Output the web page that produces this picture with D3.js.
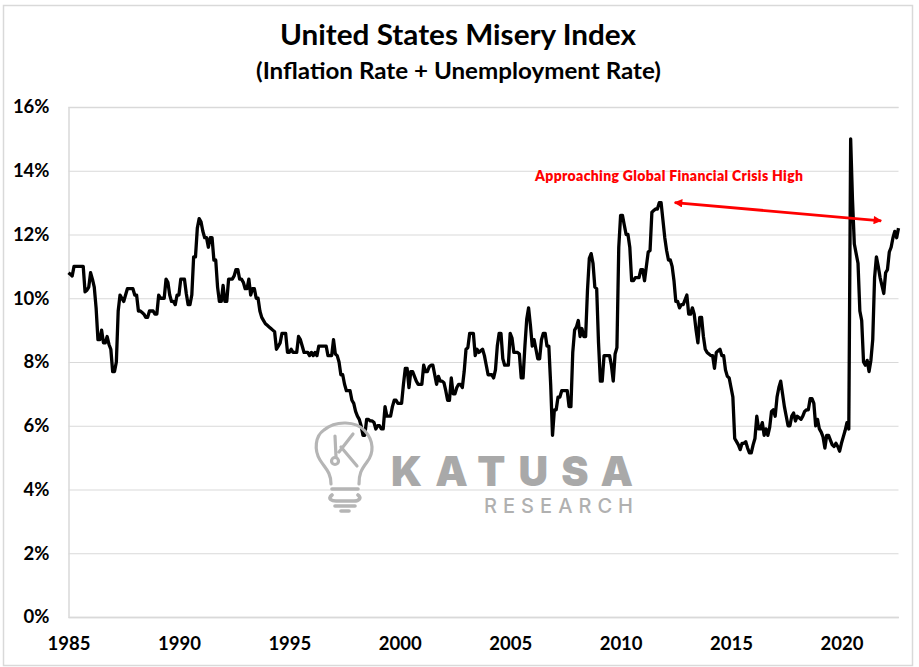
<!DOCTYPE html>
<html>
<head>
<meta charset="utf-8">
<script src="https://cdn.jsdelivr.net/npm/d3@7"></script>
<style>
  body { margin: 0; background: #fff; }
  text { font-family: Lato, sans-serif; fill: #000; }
  .axis text { font-weight: 700; font-size: 18.5px; }
  .axis .domain { stroke: #d9d9d9; stroke-width: 1.5; }
  .axis .tick line { stroke: #d9d9d9; stroke-width: 1.2; }
</style>
</head>
<body>
<svg id="chart" width="919" height="667"></svg>
<script>
var yearTicks = [1985, 1990, 1995, 2000, 2005, 2010, 2015, 2020];
var pctTicks = [0, 2, 4, 6, 8, 10, 12, 14, 16];
var startYear = 1985;

// monthly, one row per year
var misery = [
  10.8,10.75,10.7,11.0,11.0,11.0,11.0,11.0,11.0,10.2,10.25,10.35,
  10.8,10.6,10.35,9.7,8.7,8.7,9.0,8.6,8.6,8.8,8.55,8.4,
  7.7,7.7,8.0,9.6,10.1,10.0,9.9,10.1,10.3,10.3,10.3,10.3,
  10.1,10.1,9.6,9.6,9.55,9.5,9.4,9.4,9.6,9.6,9.6,9.5,
  9.5,10.1,10.0,10.0,10.0,10.6,10.5,10.1,9.9,9.9,9.8,10.1,
  10.1,10.6,10.6,10.6,10.15,9.8,9.8,10.1,11.3,11.3,12.2,12.5,
  12.4,12.1,11.9,11.9,11.6,11.9,11.9,11.2,11.2,10.35,9.9,9.9,
  10.4,9.9,9.9,10.6,10.6,10.6,10.7,10.9,10.9,10.6,10.6,10.5,
  10.3,10.3,10.6,10.1,10.3,10.3,10.0,10.0,9.6,9.4,9.3,9.2,
  9.15,9.1,9.05,9.0,8.95,8.4,8.5,8.6,8.9,8.9,8.9,8.3,
  8.3,8.4,8.3,8.3,8.3,8.8,8.7,8.5,8.3,8.3,8.3,8.2,
  8.3,8.2,8.3,8.2,8.5,8.5,8.5,8.5,8.5,8.2,8.2,8.2,
  8.7,8.25,8.2,8.0,7.6,7.6,7.3,7.1,7.1,7.1,6.8,6.7,
  6.45,6.3,6.2,6.0,5.7,5.7,6.2,6.2,6.15,6.15,6.1,5.9,
  6.0,6.0,5.9,5.9,6.6,6.3,6.3,6.3,6.6,6.8,6.8,6.7,
  6.7,6.7,7.3,7.8,7.8,7.2,7.7,7.7,7.55,7.4,7.3,7.3,
  7.3,7.9,7.7,7.7,7.85,7.9,7.9,7.6,7.3,7.55,7.4,7.4,
  7.35,7.1,6.8,6.8,7.5,7.0,7.0,7.2,7.3,7.3,7.2,7.7,
  8.4,8.45,8.9,8.9,8.9,8.2,8.4,8.3,8.35,8.4,8.2,7.9,
  7.6,7.6,7.6,7.5,7.75,8.5,8.9,8.9,8.1,7.9,7.9,7.9,
  8.9,8.75,8.3,8.3,8.3,8.25,7.5,7.5,8.5,9.35,9.7,9.15,
  8.5,8.7,8.4,8.1,8.1,8.7,8.9,8.9,8.5,8.5,7.3,5.7,
  6.5,6.5,6.9,6.9,7.1,7.1,7.1,7.1,6.6,6.6,8.3,9.0,
  9.1,9.3,8.8,9.05,8.8,8.8,10.25,11.25,11.4,11.1,10.35,10.3,
  8.6,7.4,7.4,8.2,8.2,8.2,8.2,7.9,7.4,8.25,8.45,11.6,
  12.6,12.6,12.3,12.0,12.0,11.6,10.55,10.55,10.65,10.65,10.65,10.9,
  10.9,10.55,11.0,11.45,11.5,12.7,12.75,12.8,12.8,13.0,13.0,12.45,
  11.9,11.5,11.2,11.2,11.0,10.55,9.9,9.9,9.7,9.8,9.8,9.95,
  10.1,9.5,9.5,9.7,9.5,9.0,8.6,9.4,9.4,8.8,8.4,8.3,
  8.25,8.2,8.2,7.8,8.3,8.35,8.4,8.2,8.2,7.75,7.55,7.5,
  7.2,6.9,5.6,5.5,5.4,5.25,5.45,5.45,5.5,5.3,5.15,5.15,
  5.4,5.6,6.3,5.9,5.9,6.1,5.7,5.9,5.7,5.95,6.45,6.5,
  6.3,6.9,7.2,7.4,7.0,6.6,6.3,6.0,6.0,6.3,6.4,6.15,
  6.3,6.25,6.2,6.3,6.45,6.5,6.5,6.85,6.85,6.7,6.0,6.2,
  5.9,5.8,5.65,5.3,5.7,5.7,5.55,5.4,5.35,5.45,5.35,5.2,
  5.45,5.65,5.85,6.1,5.9,15.0,13.1,11.7,11.4,11.1,9.6,9.3,
  8.0,7.9,8.05,7.7,8.05,8.7,10.65,11.3,11.0,10.65,10.4,10.15,
  10.8,10.9,11.45,11.6,11.9,12.1,11.9,12.2
];

var arrowFrom = [2012.45, 13.0],
    arrowTo = [2021.8, 12.43];

var svg = d3.select("#chart"),
    margin = {top: 107, right: 20.5, bottom: 50, left: 68.5},
    width = svg.attr("width") - margin.left - margin.right,
    height = svg.attr("height") - margin.top - margin.bottom;

var x = d3.scaleLinear()
    .domain([startYear, startYear + (misery.length - 1) / 12])
    .range([0, width]);
var y = d3.scaleLinear().domain([0, 16]).range([height, 0]);

// chart border
svg.append("rect")
    .attr("x", 3.5).attr("y", 5.5)
    .attr("width", 909).attr("height", 660)
    .attr("fill", "#fff")
    .attr("stroke", "#d9d9d9")
    .attr("stroke-width", 1.5);

var g = svg.append("g")
    .attr("transform", "translate(" + margin.left + "," + margin.top + ")");

g.append("g")
    .attr("class", "axis axis--y")
    .call(d3.axisLeft(y).tickValues(pctTicks).tickSize(-width).tickPadding(19)
      .tickFormat(function(d) { return d + "%"; }));

g.append("g")
    .attr("class", "axis axis--x")
    .attr("transform", "translate(0," + height + ")")
    .call(d3.axisBottom(x).tickValues(yearTicks).tickSize(0).tickPadding(19.5)
      .tickFormat(d3.format("d")));

// watermark
var mark = svg.append("g").attr("fill", "none").attr("stroke", "#b5b5b5")
    .attr("stroke-width", 3.2).attr("stroke-linecap", "round").attr("stroke-linejoin", "round");
mark.append("path")
    .attr("d", "M331,484 C331,472 325,468 320,460 C314,450 315,436 324,430 C336,420 356,421 365,431 C374,441 374,453 367,462 C361,470 359,474 359,484");
mark.append("path").attr("d", "M335,436 L336,457 M339,452 L353,434 M341,447 L357,466");
mark.append("circle").attr("cx", 335).attr("cy", 461).attr("r", 3.5);
mark.append("path").attr("d", "M332,489 L358,489 M332,495 C327,499 332,501 336,501 L354,501 C359,501 362,498 358,495 M335,506 L355,506 M341,511 L349,511")
    .attr("stroke-width", 3.6);

svg.append("text")
    .attr("x", 391).attr("y", 486)
    .attr("textLength", 242)
    .style("font-family", "Inter, sans-serif")
    .style("font-weight", 900).style("font-size", "41px")
    .style("fill", "#a9a9a9")
    .text("KATUSA");
svg.append("text")
    .attr("x", 484).attr("y", 513)
    .attr("textLength", 149)
    .style("font-family", "Inter, sans-serif")
    .style("font-weight", 500).style("font-size", "20px")
    .style("fill", "#b0b0b0")
    .text("RESEARCH");

var line = d3.line()
    .x(function(d, i) { return x(startYear + i / 12); })
    .y(function(d) { return y(d); });

g.append("path")
    .datum(misery)
    .attr("fill", "none")
    .attr("stroke", "#000")
    .attr("stroke-width", 3.3)
    .attr("stroke-linejoin", "round")
    .attr("d", line);

// red arrow
svg.append("defs").append("marker")
    .attr("id", "head")
    .attr("viewBox", "0 0 10 10")
    .attr("refX", 9).attr("refY", 5)
    .attr("markerWidth", 3.4).attr("markerHeight", 3)
    .attr("orient", "auto-start-reverse")
  .append("path")
    .attr("d", "M0,0L10,5L0,10Z")
    .attr("fill", "#ff0000");

g.append("line")
    .attr("x1", x(arrowFrom[0])).attr("y1", y(arrowFrom[1]))
    .attr("x2", x(arrowTo[0])).attr("y2", y(arrowTo[1]))
    .attr("stroke", "#ff0000")
    .attr("stroke-width", 2.8)
    .attr("marker-start", "url(#head)")
    .attr("marker-end", "url(#head)");

svg.append("text")
    .attr("x", 535).attr("y", 181)
    .attr("textLength", 268)
    .style("font-weight", 800).style("font-size", "14px")
    .style("fill", "#ff0000")
    .text("Approaching Global Financial Crisis High");

svg.append("text")
    .attr("x", 280).attr("y", 45)
    .attr("textLength", 356)
    .attr("lengthAdjust", "spacingAndGlyphs")
    .style("font-weight", 700).style("font-size", "29px")
    .text("United States Misery Index");
svg.append("text")
    .attr("x", 256).attr("y", 79)
    .attr("textLength", 405)
    .attr("lengthAdjust", "spacingAndGlyphs")
    .style("font-weight", 700).style("font-size", "23.5px")
    .text("(Inflation Rate + Unemployment Rate)");
</script>
</body>
</html>
